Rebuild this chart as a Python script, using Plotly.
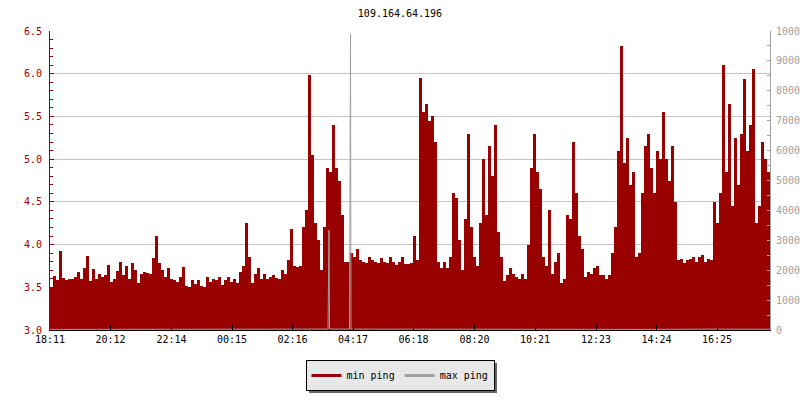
import plotly.graph_objects as go

# ---- data ----
tick_labels = ["18:11", "20:12", "22:14", "00:15", "02:16", "04:17",
               "06:18", "08:20", "10:21", "12:23", "14:24", "16:25"]
tick_minutes = [0, 121, 243, 364, 485, 606, 727, 849, 970, 1092, 1213, 1334]

step_minutes = 6  # one sample every 6 minutes, starting at 18:11

min_ping = [
    # 18:11 ..
    3.50, 3.63, 3.58, 3.92, 3.61, 3.59, 3.60, 3.60, 3.62, 3.68,
    3.60, 3.72, 3.87, 3.57, 3.71, 3.60, 3.65, 3.62, 3.64, 3.76,
    3.56, 3.60, 3.69, 3.80, 3.64, 3.75, 3.60, 3.79, 3.70, 3.55,
    3.66, 3.68, 3.67, 3.66, 3.84, 4.10, 3.78, 3.70, 3.62, 3.73,
    # 22:11 ..
    3.60, 3.58, 3.56, 3.62, 3.74, 3.51, 3.50, 3.59, 3.54, 3.58,
    3.52, 3.50, 3.62, 3.56, 3.60, 3.59, 3.62, 3.53, 3.58, 3.62,
    3.56, 3.60, 3.55, 3.68, 3.75, 4.25, 3.85, 3.55, 3.66, 3.72,
    3.60, 3.66, 3.60, 3.62, 3.64, 3.61, 3.60, 3.70, 3.66, 3.82,
    4.18, 3.75,
    # 02:23 ..
    3.74, 3.75, 4.20, 4.40, 5.98, 5.05, 4.25, 4.05, 3.70, 4.20,
    4.90, 4.85, 5.40, 4.90, 4.75, 4.35, 3.80, 3.80, 3.90, 3.86,
    3.95, 3.82, 3.80, 3.78, 3.85, 3.82, 3.80, 3.78, 3.84, 3.80,
    3.78, 3.85, 3.80,
    # 05:41 ..
    3.76, 3.80, 3.85, 3.77, 3.77, 3.78, 4.10, 3.82, 5.95, 5.55,
    5.65, 5.45, 5.50, 5.20, 3.80, 3.72, 3.80, 3.72, 3.85, 4.60,
    4.55, 4.05, 3.70, 4.30, 5.30, 4.20, 3.85, 3.75, 4.25, 5.00,
    4.35, 5.15, 4.80, 5.40, 4.15, 3.85, 3.57, 3.64, 3.72, 3.65,
    # 09:41 ..
    3.62, 3.60, 3.65, 3.60, 4.00, 4.90, 5.30, 4.85, 4.65, 3.85,
    3.75, 4.40, 3.65, 3.80, 3.90, 3.55, 3.60, 4.35, 4.30, 5.20,
    4.60, 4.10, 3.95, 3.62, 3.68, 3.65, 3.72, 3.75, 3.64, 3.64,
    3.60, 3.64, 3.90, 4.20, 5.10, 6.33, 4.95, 5.25, 4.70, 4.85,
    # 13:41 ..
    3.85, 3.90, 4.60, 5.15, 5.30, 4.90, 4.60, 5.10, 5.00, 5.55,
    5.00, 4.75, 5.15, 4.50, 3.82, 3.83, 3.78, 3.82, 3.83, 3.86,
    3.80, 3.85, 3.88, 3.80, 3.83, 3.82, 4.50, 4.25, 4.60, 6.10,
    4.85, 5.65, 4.45, 5.25, 4.70, 5.30, 5.94, 5.10, 5.40, 6.06,
    4.25, 4.45, 5.20, 5.00, 4.85,
]
min_ping_minutes = [step_minutes * k + step_minutes / 2 for k in range(len(min_ping))]

max_ping_minutes = [0, 120, 240, 360, 480, 556, 557, 558, 559,
                    599, 600, 601, 602, 720, 840, 960, 1080, 1200, 1320, 1440]
max_ping = [20, 25, 15, 20, 30, 30, 1670, 3340, 30,
            30, 4950, 9900, 30, 25, 20, 30, 25, 20, 30, 25]

RED = "#990000"
GRAY = "#a0a0a0"
FONT = "DejaVu Sans Mono"

# plot area in pixels (for placing the legend shadow)
L, R, T, B = 50, 30, 31, 70
W, H = 800, 400
PW, PH = W - L - R, H - T - B


def px_x(p):
    return (p - L) / PW


def px_y(p):
    return (H - B - p) / PH


fig = go.Figure()
fig.add_trace(go.Bar(x=min_ping_minutes, y=min_ping, width=step_minutes,
                     marker=dict(color=RED, line=dict(width=0)),
                     name="min ping", showlegend=False, yaxis="y"))
fig.add_trace(go.Scatter(x=max_ping_minutes, y=max_ping, mode="lines",
                         line=dict(color=GRAY, width=1),
                         name="max ping", showlegend=False, yaxis="y2"))
# legend entries
fig.add_trace(go.Scatter(x=[None], y=[None], mode="lines",
                         line=dict(color=RED, width=3), name="min ping"))
fig.add_trace(go.Scatter(x=[None], y=[None], mode="lines",
                         line=dict(color=GRAY, width=3), name="max ping"))

fig.update_layout(
    width=W, height=H,
    margin=dict(l=L, r=R, t=T, b=B, autoexpand=False),
    plot_bgcolor="white", paper_bgcolor="white",
    bargap=0,
    font=dict(family=FONT, size=10, color="black"),
    title=dict(text="109.164.64.196", x=0.5, xanchor="center",
               yref="container", y=1 - 13 / 400, yanchor="middle",
               font=dict(family=FONT, size=10, color="black")),
    xaxis=dict(range=[0, 1440], tickmode="array", tickvals=tick_minutes,
               ticktext=tick_labels, ticks="inside", ticklen=5,
               tickcolor="black", showline=True, linecolor="black",
               linewidth=1, showgrid=False, zeroline=False, automargin=False,
               tickfont=dict(color="black", size=10, family=FONT)),
    yaxis=dict(range=[3, 6.5], dtick=0.5, tick0=3, tickformat=".1f",
               ticks="inside", ticklen=4, tickcolor=RED,
               showline=True, linecolor=RED, linewidth=1,
               gridcolor="#c4c4c4", gridwidth=1, zeroline=False,
               automargin=False, ticklabelstandoff=5,
               tickfont=dict(color=RED, size=10, family=FONT),
               minor=dict(dtick=0.1, tick0=3, ticks="inside", ticklen=3,
                          tickcolor=RED, showgrid=False)),
    yaxis2=dict(overlaying="y", side="right", range=[0, 10000],
                dtick=1000, tick0=0, tickformat="d", ticks="inside", ticklen=3,
                tickcolor=GRAY, showline=True, linecolor=GRAY,
                linewidth=1, showgrid=False, zeroline=False,
                automargin=False, ticklabelstandoff=3,
                tickfont=dict(color=GRAY, size=10, family=FONT),
                minor=dict(dtick=500, ticks="inside", ticklen=3,
                           tickcolor=GRAY, showgrid=False)),
    legend=dict(orientation="h", x=px_x(400), xanchor="center",
                y=px_y(360), yanchor="top", bgcolor="#e8e8e8",
                bordercolor="black", borderwidth=1,
                font=dict(family=FONT, size=10, color="black"),
                itemwidth=30),
    shapes=[dict(type="rect", xref="paper", yref="paper",
                 x0=px_x(309), x1=px_x(497), y0=px_y(363), y1=px_y(393),
                 fillcolor="#666666", line=dict(width=0), layer="below")],
)

fig.write_html("out.html",
               config={"displayModeBar": False},
               post_script="document.body.style.margin='0px';")
